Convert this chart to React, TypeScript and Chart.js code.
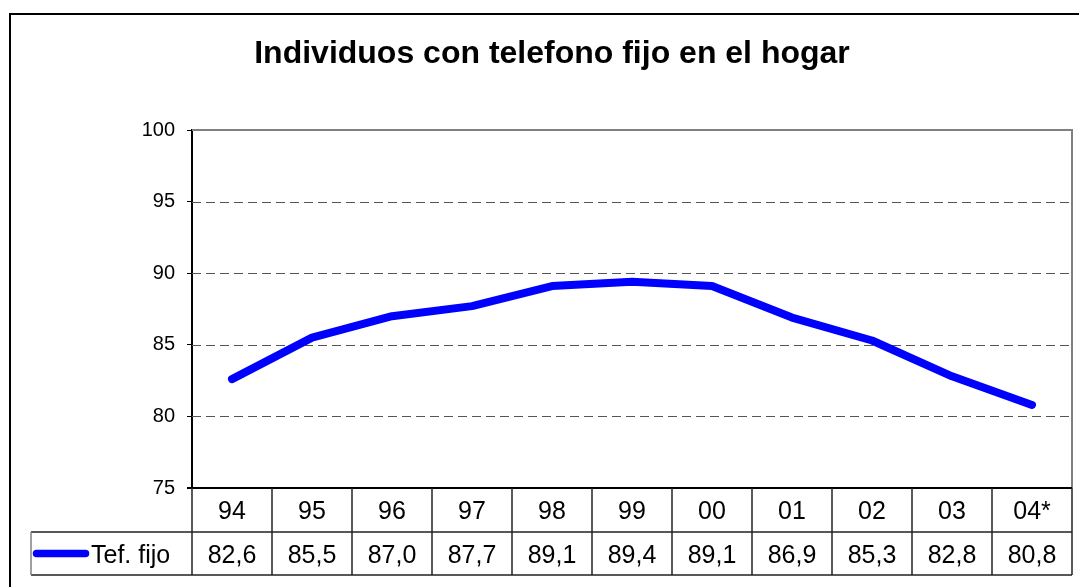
import React, { useEffect, useRef } from "react";
import { Chart, registerables } from "chart.js";

Chart.register(...registerables);

const TITLE = "Individuos con telefono fijo en el hogar";
const CATEGORIES = ["94", "95", "96", "97", "98", "99", "00", "01", "02", "03", "04*"];
const SERIES_NAME = "Tef. fijo";
const VALUES = [82.6, 85.5, 87.0, 87.7, 89.1, 89.4, 89.1, 86.9, 85.3, 82.8, 80.8];
const VALUE_LABELS = ["82,6", "85,5", "87,0", "87,7", "89,1", "89,4", "89,1", "86,9", "85,3", "82,8", "80,8"];
const Y_MIN = 75;
const Y_MAX = 100;
const Y_STEP = 5;
const GRID_VALUES = [80, 85, 90, 95];

const FONT = "'Liberation Sans', Arial, sans-serif";

const decorPlugin = {
  id: "decor",
  beforeDatasetsDraw(chart: any) {
    const { ctx, chartArea, scales } = chart;
    const y = scales.y;
    ctx.save();
    ctx.strokeStyle = "#555";
    ctx.lineWidth = 1;
    ctx.setLineDash([9, 5]);
    GRID_VALUES.forEach((v) => {
      const py = Math.round(y.getPixelForValue(v)) + 0.5;
      ctx.beginPath();
      ctx.moveTo(chartArea.left, py);
      ctx.lineTo(chartArea.right, py);
      ctx.stroke();
    });
    ctx.setLineDash([]);
    ctx.strokeStyle = "#808080";
    ctx.lineWidth = 2;
    const top = y.getPixelForValue(Y_MAX);
    const bottom = y.getPixelForValue(Y_MIN);
    ctx.beginPath();
    ctx.moveTo(chartArea.left, top);
    ctx.lineTo(chartArea.right, top);
    ctx.lineTo(chartArea.right, bottom);
    ctx.stroke();
    ctx.restore();
  },
  afterDraw(chart: any) {
    const { ctx, chartArea, scales, width } = chart;
    const x = scales.x;
    const y = scales.y;
    ctx.save();

    ctx.strokeStyle = "#000";
    ctx.lineWidth = 2;
    ctx.beginPath();
    ctx.moveTo(10, chart.height);
    ctx.lineTo(10, 14);
    ctx.lineTo(width, 14);
    ctx.stroke();

    ctx.fillStyle = "#000";
    ctx.font = `bold 32px ${FONT}`;
    ctx.textAlign = "center";
    ctx.textBaseline = "alphabetic";
    ctx.fillText(TITLE, 552, 63);

    const bottom = y.getPixelForValue(Y_MIN);
    ctx.strokeStyle = "#000";
    ctx.lineWidth = 2;
    ctx.beginPath();
    ctx.moveTo(chartArea.left - 5, bottom);
    ctx.lineTo(chartArea.right, bottom);
    ctx.stroke();

    const n = CATEGORIES.length;
    const step = x.getPixelForValue(1) - x.getPixelForValue(0);
    const edges: number[] = [];
    for (let i = 0; i <= n; i++) {
      edges.push(x.getPixelForValue(i) - step / 2);
    }
    const row1Top = bottom;
    const row1Bottom = bottom + 44;
    const row2Bottom = row1Bottom + 43;
    const legendLeft = 31;

    ctx.lineWidth = 1.5;
    ctx.strokeStyle = "#222";
    edges.forEach((ex) => {
      const px = Math.round(ex);
      ctx.beginPath();
      ctx.moveTo(px, row1Top);
      ctx.lineTo(px, row2Bottom);
      ctx.stroke();
    });
    ctx.beginPath();
    ctx.moveTo(legendLeft, row1Bottom);
    ctx.lineTo(edges[n], row1Bottom);
    ctx.moveTo(legendLeft, row2Bottom);
    ctx.lineTo(edges[n], row2Bottom);
    ctx.stroke();
    ctx.strokeStyle = "#808080";
    ctx.beginPath();
    ctx.moveTo(legendLeft, row1Bottom);
    ctx.lineTo(legendLeft, row2Bottom);
    ctx.stroke();

    ctx.fillStyle = "#000";
    ctx.font = `25px ${FONT}`;
    ctx.textAlign = "center";
    CATEGORIES.forEach((c, i) => {
      const cx = x.getPixelForValue(i);
      ctx.fillText(c, cx, row1Top + 31);
      ctx.fillText(VALUE_LABELS[i], cx, row1Bottom + 31);
    });

    ctx.strokeStyle = "#0000FF";
    ctx.lineWidth = 7.5;
    ctx.lineCap = "round";
    ctx.beginPath();
    ctx.moveTo(36.5, row1Bottom + 21.5);
    ctx.lineTo(85.5, row1Bottom + 21.5);
    ctx.stroke();
    ctx.textAlign = "left";
    ctx.fillStyle = "#000";
    ctx.fillText(SERIES_NAME, 91, row1Bottom + 31);

    ctx.restore();
  },
};

export default function App() {
  const ref = useRef<HTMLCanvasElement | null>(null);
  useEffect(() => {
    if (!ref.current) return;
    const chart = new Chart(ref.current, {
      type: "line",
      data: {
        labels: CATEGORIES,
        datasets: [
          {
            label: SERIES_NAME,
            data: VALUES,
            borderColor: "#0000FF",
            backgroundColor: "#0000FF",
            borderWidth: 8,
            pointRadius: 0,
            tension: 0,
            borderCapStyle: "round",
            borderJoinStyle: "round",
          },
        ],
      },
      options: {
        animation: false,
        responsive: false,
        events: [],
        layout: { padding: { left: 0, top: 130, right: 7, bottom: 99 } },
        plugins: {
          legend: { display: false },
          title: { display: false },
          tooltip: { enabled: false },
        },
        scales: {
          x: {
            type: "category",
            display: false,
            offset: true,
          },
          y: {
            min: Y_MIN,
            max: Y_MAX,
            afterFit: (scale: any) => {
              scale.width = 192;
            },
            ticks: {
              stepSize: Y_STEP,
              padding: 12,
              color: "#000",
              font: { family: FONT, size: 20 },
            },
            grid: {
              display: true,
              drawOnChartArea: false,
              drawTicks: true,
              tickLength: 5,
              color: "#000",
              lineWidth: 1,
            },
            border: { display: true, color: "#000", width: 2 },
          },
        },
      },
      plugins: [decorPlugin],
    });
    return () => chart.destroy();
  }, []);
  return (
    <div style={{ position: "fixed", left: 0, top: 0, width: 1079, height: 587, background: "#fff" }}>
      <canvas ref={ref} width={1079} height={587} style={{ width: 1079, height: 587, display: "block" }} />
    </div>
  );
}
